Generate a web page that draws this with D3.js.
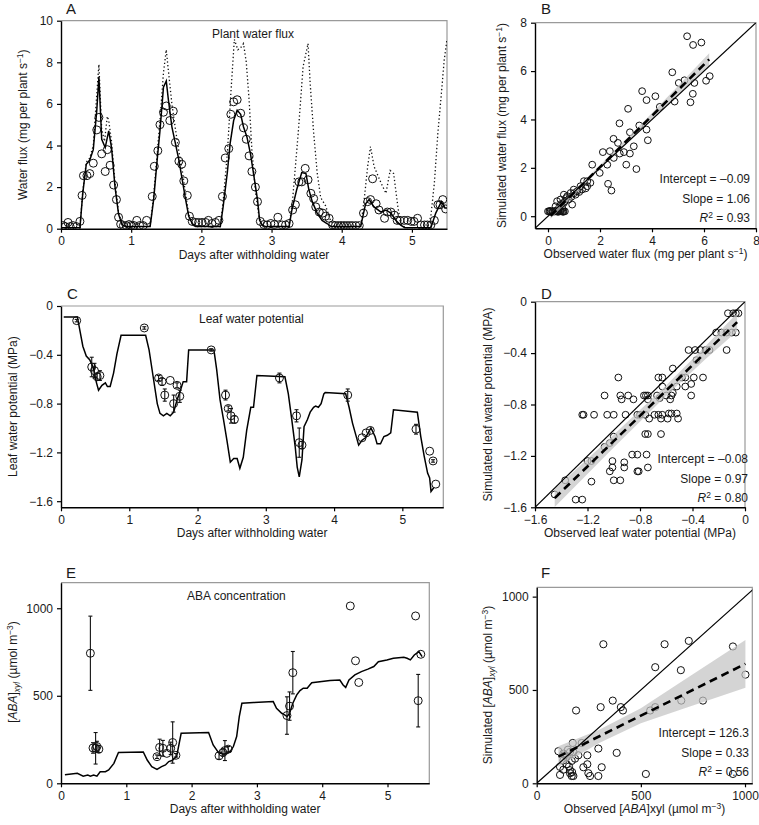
<!DOCTYPE html>
<html><head><meta charset="utf-8">
<script src="https://cdn.jsdelivr.net/npm/d3@7"></script>
<style>
body{margin:0;background:#fff;}
svg{font-family:"Liberation Sans",Arial,Helvetica,sans-serif;}
</style></head><body>
<svg id="c" width="759" height="825"></svg>
<script>
// ---------- Panel A: plant water flux ----------
const simA_day = [0,0.27,0.31,0.36,0.41,0.46,0.51,0.54,0.58,0.63,0.68,0.72,0.77,0.82,0.87,0.92,1.27,1.32,1.37,1.41,1.46,1.5,1.53,1.58,1.63,1.68,1.72,1.77,1.82,1.87,1.92,2.27,2.31,2.37,2.41,2.46,2.51,2.56,2.6,2.65,2.7,2.75,2.8,2.83,2.87,2.92,3.25,3.29,3.36,3.43,3.49,3.53,3.58,3.65,3.72,3.79,3.85,4.27,4.34,4.39,4.46,4.56,4.63,4.7,4.77,4.84,4.9,5.27,5.34,5.42,5.47,5.5];
const simA_val = [0.05,0.05,1.7,3.1,3.3,3.8,5.7,7.3,4.3,3.9,4.7,3.9,2.0,0.7,0.2,0.1,0.1,1.4,3.3,4.7,6.8,7.1,6.2,4.9,4.1,3.3,2.5,1.5,0.6,0.25,0.1,0.1,1.05,2.7,4.1,5.2,5.7,5.5,4.9,4.4,3.6,2.5,1.4,0.4,0.15,0.1,0.1,0.9,1.9,2.7,2.65,1.9,1.3,0.75,0.4,0.25,0.1,0.1,1.2,1.4,1.05,0.8,0.9,0.75,0.4,0.17,0.05,0.05,0.75,1.3,1.0,1.0];
const potA_day = [0,0.27,0.31,0.36,0.41,0.46,0.5,0.54,0.58,0.62,0.66,0.68,0.72,0.77,0.82,0.87,0.92,1.27,1.32,1.37,1.41,1.46,1.5,1.53,1.58,1.63,1.68,1.72,1.77,1.82,1.87,1.92,2.27,2.31,2.37,2.42,2.47,2.52,2.56,2.6,2.64,2.68,2.72,2.77,2.82,2.87,2.92,3.25,3.3,3.38,3.45,3.52,3.55,3.6,3.65,3.7,3.77,3.84,3.9,4.27,4.32,4.37,4.41,4.46,4.56,4.63,4.69,4.74,4.8,4.84,4.9,5.22,5.27,5.32,5.37,5.42,5.46,5.5];
const potA_val = [0.05,0.05,1.8,3.2,3.4,4.0,6.0,7.9,4.8,4.2,5.4,5.2,4.2,2.2,0.8,0.2,0.1,0.1,1.6,3.6,5.2,7.5,8.6,7.6,6.0,4.8,3.7,3.0,1.8,0.7,0.25,0.1,0.1,1.3,3.6,6.5,9.1,8.6,8.7,8.9,8.0,6.2,3.8,1.8,0.6,0.15,0.1,0.1,1.4,4.6,7.8,8.9,7.0,4.6,2.7,1.5,1.1,0.4,0.1,0.1,1.4,3.0,3.95,3.0,2.2,1.7,2.8,2.65,1.05,0.25,0.05,0.05,0.6,2.2,4.6,6.5,8.1,9.1];
const obsA_day = [0.03,0.06,0.1,0.13,0.17,0.22,0.27,0.3,0.32,0.37,0.41,0.46,0.51,0.54,0.58,0.63,0.66,0.7,0.75,0.79,0.82,0.85,0.89,0.93,0.97,1.0,1.04,1.08,1.12,1.17,1.22,1.3,1.33,1.38,1.41,1.46,1.5,1.55,1.6,1.63,1.68,1.72,1.75,1.8,1.83,1.87,1.92,1.96,2.01,2.06,2.1,2.15,2.2,2.25,2.3,2.34,2.39,2.42,2.46,2.51,2.56,2.6,2.64,2.68,2.72,2.77,2.8,2.84,2.89,2.94,2.99,3.04,3.09,3.15,3.2,3.25,3.3,3.34,3.39,3.43,3.48,3.52,3.56,3.6,3.63,3.68,3.73,3.77,3.82,3.87,3.91,3.95,3.99,4.03,4.07,4.11,4.15,4.2,4.25,4.31,4.37,4.41,4.44,4.49,4.53,4.61,4.65,4.7,4.75,4.79,4.83,4.89,4.94,4.99,5.03,5.08,5.13,5.18,5.22,5.27,5.32,5.37,5.4,5.44,5.48];
const obsA_val = [0.15,0.1,0.3,0.1,0.15,0.1,0.35,1.6,2.55,2.55,2.65,3.15,4.75,5.35,3.6,2.75,3.8,3.05,2.1,1.4,0.55,0.22,0.15,0.15,0.2,0.15,0.15,0.4,0.15,0.15,0.4,1.55,3.0,3.75,5.0,5.6,5.9,5.2,5.65,4.15,3.25,3.1,2.3,1.6,0.6,0.35,0.3,0.3,0.3,0.3,0.4,0.25,0.3,0.4,1.55,3.4,3.85,5.5,6.1,6.2,5.55,4.85,4.3,3.5,2.75,2.0,1.3,0.35,0.2,0.18,0.25,0.2,0.55,0.18,0.18,0.25,0.9,1.15,2.25,2.25,2.9,2.35,1.7,1.45,1.05,0.8,0.75,0.6,0.5,0.18,0.15,0.15,0.15,0.15,0.15,0.15,0.15,0.15,0.15,0.75,1.3,1.4,2.4,1.2,0.9,0.5,0.8,0.8,0.65,0.4,0.4,0.4,0.4,0.35,0.35,0.5,0.18,0.18,0.18,0.18,0.4,1.15,1.15,1.4,0.95];

// ---------- Panel B: observed vs simulated water flux ----------
const obsB = [5.35,5.58,5.9,6.22,6.08,4.78,5.03,5.25,5.63,5.57,5.48,4.87,3.62,3.79,4.13,4.3,3.08,2.75,3.51,3.79,3.15,2.52,2.69,3.84,3.3,2.11,2.38,2.76,2.92,3.15,2.53,2.28,1.7,3.01,3.4,1.99,2.31,2.44,1.38,1.63,1.51,1.25,0.99,1.12,0.87,0.74,0.61,0.48,0.35,0.61,0.93,0.42,0.55,1.51,1.06,1.31,0.8,0.29,1.2,0.7,1.45,0.9,0.5,1.0,0.65,0.0,0.05,0.1,0.15,0.2,0.25,0.3,0.35,0.4,0.45,0.5,0.55,0.6,0.65,0.08,0.18,0.28,0.38,0.48,0.58];
const simB = [7.44,7.08,7.18,5.79,5.6,5.95,5.51,5.62,5.51,5.06,4.71,4.74,5.17,4.8,4.96,4.52,4.44,3.84,3.75,3.58,3.47,3.2,3.03,3.14,2.89,2.65,2.69,2.59,2.65,2.59,2.41,2.13,2.13,2.13,1.95,1.79,1.34,1.06,1.45,1.38,1.24,1.24,1.1,1.03,0.96,0.83,0.89,0.69,0.62,0.55,0.48,0.34,0.34,1.45,0.89,1.1,0.69,0.41,1.0,0.75,1.15,0.8,0.5,0.95,0.62,0.2,0.2,0.2,0.2,0.2,0.2,0.2,0.2,0.2,0.2,0.2,0.2,0.2,0.2,0.22,0.18,0.22,0.18,0.22,0.18];
const fitB_x = [0.1,6.2];            // fitted line: intercept -0.09, slope 1.06
const fitB_coef = [-0.09,1.06];
const bandB_x = [0.1,1,2,3,4,5,6.2];
const bandB_h = [0.12,0.09,0.08,0.09,0.12,0.17,0.25];
const statsB = ["Intercept = \u20130.09","Slope = 1.06","0.93"];

// ---------- Panel C: leaf water potential ----------
const simC_day = [0.04,0.24,0.28,0.32,0.37,0.42,0.47,0.52,0.55,0.6,0.65,0.68,0.72,0.77,0.82,0.88,1.24,1.29,1.35,1.41,1.45,1.5,1.55,1.6,1.65,1.7,1.75,1.79,1.84,1.87,2.24,2.28,2.33,2.38,2.43,2.48,2.53,2.58,2.62,2.67,2.72,2.78,2.82,2.87,3.28,3.33,3.38,3.43,3.46,3.49,3.53,3.56,3.61,3.65,3.7,3.73,3.77,3.81,3.85,3.87,4.17,4.22,4.27,4.36,4.41,4.46,4.54,4.6,4.63,4.68,4.73,4.78,4.83,4.87,5.22,5.27,5.32,5.37,5.4,5.42,5.46];
const simC_val = [-0.09,-0.09,-0.21,-0.33,-0.41,-0.44,-0.5,-0.63,-0.69,-0.65,-0.63,-0.66,-0.66,-0.55,-0.39,-0.24,-0.24,-0.36,-0.58,-0.8,-0.88,-0.9,-0.88,-0.9,-0.87,-0.77,-0.69,-0.62,-0.62,-0.36,-0.36,-0.52,-0.77,-0.93,-1.1,-1.28,-1.25,-1.25,-1.33,-1.24,-1.02,-0.83,-0.83,-0.57,-0.58,-0.72,-0.93,-1.15,-1.32,-1.4,-1.26,-0.99,-0.93,-0.87,-0.83,-0.82,-0.83,-0.8,-0.72,-0.71,-0.72,-0.83,-0.96,-1.14,-1.1,-1.08,-1.0,-1.07,-1.13,-1.13,-1.07,-1.06,-1.04,-0.85,-0.87,-1.07,-1.23,-1.37,-1.41,-1.52,-1.49];
const obsC_day = [0.23,0.45,0.49,0.53,0.57,1.22,1.43,1.48,1.52,1.6,1.65,1.7,1.74,2.2,2.41,2.45,2.49,2.54,3.2,3.45,3.49,3.53,4.2,4.41,4.47,4.53,5.2,5.4,5.45,5.49];
const obsC_val = [-0.12,-0.5,-0.53,-0.58,-0.57,-0.18,-0.59,-0.62,-0.73,-0.61,-0.8,-0.65,-0.74,-0.36,-0.73,-0.84,-0.9,-0.93,-0.59,-0.9,-1.12,-1.14,-0.73,-1.08,-1.04,-1.02,-1.01,-1.19,-1.27,-1.46];
const obsC_err = [0.01,0.08,0.06,0.03,0.04,0.01,0.02,0.03,0.05,0,0.07,0.02,0.05,0.01,0.04,0.02,0.06,0.03,0.04,0.05,0.12,0.03,0.05,0,0,0,0.04,0,0.01,0];

// ---------- Panel D: observed vs simulated leaf water potential ----------
const obsD = [-0.13,-0.09,-0.07,-0.05,-0.22,-0.18,-0.14,-0.1,-0.07,-0.43,-0.38,-0.34,-0.3,-0.27,-0.14,-0.37,-0.55,-0.48,-0.455,-0.39,-0.32,-0.66,-0.63,-0.965,-0.41,-0.52,-0.455,-0.63,-0.55,-1.07,-0.95,-0.89,-0.77,-0.755,-0.74,-0.67,-0.6,-0.56,-0.41,-0.94,-0.85,-0.74,-0.65,-0.57,-1.24,-1.23,-1.15,-1.05,-1.0,-0.91,-0.82,-0.8,-0.76,-0.69,-0.66,-0.63,-0.58,-0.56,-0.52,-0.73,-0.64,-0.59,-0.51,-0.76,-0.74,-0.64,-1.0,-1.03,-1.07,-1.2,-1.17,-0.86,-0.82,-0.75,-1.01,-0.92,-0.92,-1.01,-1.03,-0.82,-0.81,-0.74,-1.0,-0.95,-1.17,-1.37,-1.45,-1.29,-1.24];
const simD = [-0.09,-0.09,-0.09,-0.09,-0.24,-0.24,-0.24,-0.24,-0.24,-0.376,-0.376,-0.376,-0.376,-0.376,-0.376,-0.455,-0.52,-0.59,-0.59,-0.59,-0.59,-0.59,-0.59,-0.59,-0.64,-0.66,-0.66,-0.66,-0.71,-0.73,-0.73,-0.73,-0.73,-0.73,-0.73,-0.73,-0.73,-0.73,-0.73,-0.76,-0.76,-0.76,-0.75,-0.76,-0.88,-0.88,-0.88,-0.88,-0.88,-0.88,-0.88,-0.88,-0.88,-0.88,-0.88,-0.88,-0.87,-0.87,-0.87,-0.91,-0.91,-0.91,-0.91,-1.03,-1.03,-1.03,-1.05,-1.1,-1.13,-1.24,-1.24,-1.19,-1.19,-1.19,-1.24,-1.25,-1.29,-1.29,-1.32,-1.32,-1.32,-1.29,-1.39,-1.39,-1.4,-1.39,-1.5,-1.54,-1.54];
const fitD_x = [-1.45,-0.06];
const fitD_coef = [-0.1,0.985];
const bandD_x = [-1.45,-1.0,-0.6,-0.3,-0.06];
const bandD_h = [0.07,0.05,0.04,0.05,0.07];
const statsD = ["Intercept = \u20130.08","Slope = 0.97","0.80"];

// ---------- Panel E: ABA concentration ----------
const simE_day = [0.06,0.25,0.34,0.41,0.45,0.5,0.55,0.6,0.68,0.73,0.81,0.88,1.26,1.32,1.39,1.47,1.54,1.6,1.65,1.7,1.77,1.84,2.26,2.33,2.41,2.48,2.54,2.59,2.64,2.69,2.73,2.77,2.95,3.25,3.3,3.38,3.43,3.46,3.5,3.55,3.61,3.66,3.71,3.77,3.81,3.84,4.12,4.27,4.32,4.36,4.41,4.5,4.6,4.7,4.79,4.86,4.99,5.09,5.25,5.3,5.35,5.41,5.48,5.53];
const simE_val = [49,57,41,47,41,47,41,66,66,76,114,176,179,133,95,80,95,105,124,130,152,286,290,219,176,166,171,181,210,267,381,457,461,467,428,400,390,381,400,457,505,530,543,543,562,575,587,590,562,548,590,619,638,652,667,695,705,714,720,714,705,733,752,724];
const obsE_day = [0.45,0.49,0.53,0.55,0.58,1.47,1.51,1.56,1.62,1.68,1.71,1.76,2.42,2.48,2.51,2.56,3.46,3.5,3.55,4.43,4.51,4.56,5.43,5.47,5.51];
const obsE_val = [743,202,200,210,195,152,205,200,171,200,233,160,157,176,187,195,387,441,632,1013,700,576,956,472,737];
const obsE_err = [212,30,90,30,20,10,47,45,0,35,118,10,20,20,57,15,107,81,121,0,0,0,0,150,0];

// ---------- Panel F: observed vs simulated ABA ----------
const obsF = [320,614,730,942,569,692,1002,365,307,404,414,189,569,545,694,798,384,296,216,173,104,128,160,144,176,200,243,128,168,144,243,112,128,160,224,312,112,160,168,176,248,256,296,524,942,184,150,136,155,170];
const simF = [745,745,763,733,622,606,582,443,408,408,390,390,408,390,443,443,163,186,216,216,172,159,168,141,168,150,150,123,120,102,102,88,73,70,86,86,45,54,39,39,54,39,39,50,50,132,180,150,90,60];
const fitF_pts = [[104,143],[1002,640]];
const bandF_x = [104,300,500,700,1002];
const bandF_h = [55,35,40,75,128];
const statsF = ["Intercept = 126.3","Slope = 0.33","0.56"];

// ---------- drawing ----------
const svg = d3.select("#c");
const FS = 12;
const minusFmt = d3.format(".1f");

function rich(textSel, parts){
  parts.forEach(p=>{
    const t = textSel.append("tspan").text(p.t);
    if(p.it) t.attr("font-style","italic");
    if(p.sup){ t.attr("font-size",8.5).attr("dy",-4.5); }
    if(p.sub){ t.attr("font-size",8.5).attr("dy",3); }
    if(p.back) t.attr("dy",p.back);
  });
}

let clipId = 0;
function panel(p){
  const x = d3.scaleLinear().domain(p.xd).range([p.x0,p.x1]);
  const y = d3.scaleLinear().domain(p.yd).range([p.y1,p.y0]);
  const g = svg.append("g");
  const id = "clip"+(clipId++);
  svg.append("clipPath").attr("id",id).append("rect")
    .attr("x",p.x0).attr("y",p.y0).attr("width",p.x1-p.x0).attr("height",p.y1-p.y0);
  g.append("path").attr("d",`M${p.x0},${p.y0}H${p.x1}V${p.y1}`)
    .attr("fill","none").attr("stroke","#9a9a9a").attr("stroke-width",1.2);
  const inner = g.append("g").attr("clip-path",`url(#${id})`);
  const xa = d3.axisBottom(x).tickValues(p.xt).tickFormat(p.xf||(d=>d)).tickSize(4).tickSizeOuter(0).tickPadding(4);
  const ya = d3.axisLeft(y).tickValues(p.yt).tickFormat(p.yf||(d=>d)).tickSize(4).tickSizeOuter(0).tickPadding(4);
  const gx = g.append("g").attr("transform",`translate(0,${p.y1})`).call(xa);
  const gy = g.append("g").attr("transform",`translate(${p.x0},0)`).call(ya);
  [gx,gy].forEach(a=>{
    a.select(".domain").attr("stroke","#000").attr("stroke-width",1.4);
    a.selectAll(".tick line").attr("stroke","#000").attr("stroke-width",1.2);
    a.selectAll(".tick text").attr("font-size",FS).attr("fill","#1a1a1a").attr("font-family","Liberation Sans, Arial, sans-serif");
  });
  svg.append("text").attr("x",p.lx).attr("y",p.ly).attr("font-size",15).attr("fill","#1a1a1a").text(p.letter);
  const xt = svg.append("text").attr("x",(p.x0+p.x1)/2).attr("y",p.y1+30).attr("text-anchor","middle").attr("font-size",FS).attr("fill","#1a1a1a");
  rich(xt,p.xtitle);
  const yt = svg.append("text").attr("transform",`translate(${p.ytx},${p.ytc!==undefined?p.ytc:(p.y0+p.y1)/2}) rotate(-90)`).attr("text-anchor","middle").attr("font-size",FS).attr("fill","#1a1a1a");
  rich(yt,p.ytitle);
  return {x,y,g,inner};
}

const SUPM1 = [{t:"\u22121",sup:true},{t:")",back:4.5}];
const days = [{t:"Days after withholding water"}];

// Panel A
{
  const P = panel({x0:61,x1:447,y0:20.7,y1:228.7,xd:[0,5.5],yd:[0,10],xt:[0,1,2,3,4,5],yt:[0,2,4,6,8,10],
    letter:"A",lx:66,ly:14,xtitle:days,ytitle:[{t:"Water flux (mg per plant s"}].concat(SUPM1),ytx:27});
  const {x,y,inner} = P;
  const ln = d3.line().x(d=>x(d[0])).y(d=>y(d[1]));
  inner.append("path").attr("d",ln(d3.zip(potA_day,potA_val))).attr("fill","none").attr("stroke","#111").attr("stroke-width",1.3).attr("stroke-dasharray","1.3,2.4");
  inner.append("g").selectAll("circle").data(d3.zip(obsA_day,obsA_val)).join("circle")
    .attr("cx",d=>x(d[0])).attr("cy",d=>y(d[1])).attr("r",4).attr("fill","none").attr("stroke","#111").attr("stroke-width",1);
  inner.append("path").attr("d",ln(d3.zip(simA_day,simA_val))).attr("fill","none").attr("stroke","#000").attr("stroke-width",1.5);
  svg.append("text").attr("x",212).attr("y",38).attr("font-size",FS).attr("fill","#1a1a1a").text("Plant water flux");
}

function scatterPanel(P, xs, ys, r, oneToOne, fitPts, bandX, bandH, bandFn, stats, sx, sy){
  const {x,y,inner} = P;
  inner.append("g").selectAll("circle").data(d3.zip(xs,ys)).join("circle")
    .attr("cx",d=>x(d[0])).attr("cy",d=>y(d[1])).attr("r",r).attr("fill","none").attr("stroke","#111").attr("stroke-width",1);
  const area = d3.area().x(d=>x(d[0])).y0(d=>y(bandFn(d[0])-d[1])).y1(d=>y(bandFn(d[0])+d[1]));
  inner.append("path").attr("d",area(d3.zip(bandX,bandH))).attr("fill","#c4c4c4").attr("opacity",0.72);
  inner.append("line").attr("x1",x(oneToOne[0])).attr("y1",y(oneToOne[0])).attr("x2",x(oneToOne[1])).attr("y2",y(oneToOne[1]))
    .attr("stroke","#000").attr("stroke-width",1.2);
  inner.append("line").attr("x1",x(fitPts[0][0])).attr("y1",y(fitPts[0][1])).attr("x2",x(fitPts[1][0])).attr("y2",y(fitPts[1][1]))
    .attr("stroke","#000").attr("stroke-width",2.6).attr("stroke-dasharray","8,5");
  const st = svg.append("g").attr("font-size",FS).attr("fill","#1a1a1a").attr("text-anchor","end");
  st.append("text").attr("x",sx).attr("y",sy).text(stats[0]);
  st.append("text").attr("x",sx).attr("y",sy+19.5).text(stats[1]);
  const r2 = st.append("text").attr("x",sx).attr("y",sy+39);
  rich(r2,[{t:"R",it:true},{t:"2",sup:true},{t:" = "+stats[2],back:4.5}]);
}

// Panel B
{
  const P = panel({x0:535,x1:756,y0:22.7,y1:228.3,xd:[-0.5,8],yd:[-0.5,8],xt:[0,2,4,6,8],yt:[0,2,4,6,8],
    letter:"B",lx:541,ly:14,xtitle:[{t:"Observed water flux (mg per plant s"}].concat(SUPM1),
    ytitle:[{t:"Simulated water flux (mg per plant s"}].concat(SUPM1),ytx:506});
  const f = v=>fitB_coef[0]+fitB_coef[1]*v;
  scatterPanel(P,obsB,simB,3.4,[-0.5,8],[[fitB_x[0],f(fitB_x[0])],[fitB_x[1],f(fitB_x[1])]],bandB_x,bandB_h,f,statsB,750,183);
}

// Panel C
{
  const fmtC = d=> d===0?"0":minusFmt(d);
  const P = panel({x0:61,x1:443.3,y0:306,y1:507.3,xd:[0,5.6],yd:[-1.65,0],xt:[0,1,2,3,4,5],yt:[0,-0.4,-0.8,-1.2,-1.6],yf:fmtC,
    letter:"C",lx:67,ly:299,xtitle:days,ytitle:[{t:"Leaf water potential (MPa)"}],ytx:17});
  const {x,y,inner,g} = P;
  const ln = d3.line().x(d=>x(d[0])).y(d=>y(d[1]));
  inner.append("path").attr("d",ln(d3.zip(simC_day,simC_val))).attr("fill","none").attr("stroke","#000").attr("stroke-width",1.5);
  const pts = d3.zip(obsC_day,obsC_val,obsC_err);
  const eb = g.append("g").attr("stroke","#111").attr("stroke-width",1.1);
  pts.filter(d=>d[2]>0).forEach(d=>{
    eb.append("line").attr("x1",x(d[0])).attr("x2",x(d[0])).attr("y1",y(d[1]-d[2])).attr("y2",y(d[1]+d[2]));
    eb.append("line").attr("x1",x(d[0])-2).attr("x2",x(d[0])+2).attr("y1",y(d[1]-d[2])).attr("y2",y(d[1]-d[2]));
    eb.append("line").attr("x1",x(d[0])-2).attr("x2",x(d[0])+2).attr("y1",y(d[1]+d[2])).attr("y2",y(d[1]+d[2]));
  });
  g.append("g").selectAll("circle").data(pts).join("circle")
    .attr("cx",d=>x(d[0])).attr("cy",d=>y(d[1])).attr("r",4).attr("fill","none").attr("stroke","#111").attr("stroke-width",1);
  svg.append("text").attr("x",199).attr("y",323).attr("font-size",FS).attr("fill","#1a1a1a").text("Leaf water potential");
}

// Panel D
{
  const fmtD = d=> d===0?"0":minusFmt(d);
  const P = panel({x0:535,x1:745,y0:301.7,y1:507.3,xd:[-1.6,0],yd:[-1.6,0],xt:[-1.6,-1.2,-0.8,-0.4,0],yt:[0,-0.4,-0.8,-1.2,-1.6],xf:fmtD,yf:fmtD,
    letter:"D",lx:541,ly:299,xtitle:[{t:"Observed leaf water potential (MPa)"}],ytitle:[{t:"Simulated leaf water potential (MPA)"}],ytx:492});
  const f = v=>fitD_coef[0]+fitD_coef[1]*v;
  scatterPanel(P,obsD,simD,3.4,[-1.6,0],[[fitD_x[0],f(fitD_x[0])],[fitD_x[1],f(fitD_x[1])]],bandD_x,bandD_h,f,statsD,748,463);
}

// Panel E
{
  const P = panel({x0:61,x1:429.3,y0:582.7,y1:783.3,xd:[0,5.64],yd:[0,1146],xt:[0,1,2,3,4,5],yt:[0,500,1000],
    letter:"E",lx:66,ly:578,xtitle:days,
    ytitle:[{t:"["},{t:"ABA",it:true},{t:"]"},{t:"xyl",sub:true,it:true},{t:" (\u00b5mol m",back:-3},{t:"\u22123",sup:true},{t:")",back:4.5}],ytx:17,ytc:672});
  const {x,y,inner,g} = P;
  const ln = d3.line().x(d=>x(d[0])).y(d=>y(d[1]));
  inner.append("path").attr("d",ln(d3.zip(simE_day,simE_val))).attr("fill","none").attr("stroke","#000").attr("stroke-width",1.5);
  const pts = d3.zip(obsE_day,obsE_val,obsE_err);
  const eb = g.append("g").attr("stroke","#111").attr("stroke-width",1.1);
  pts.filter(d=>d[2]>0).forEach(d=>{
    eb.append("line").attr("x1",x(d[0])).attr("x2",x(d[0])).attr("y1",y(d[1]-d[2])).attr("y2",y(d[1]+d[2]));
    eb.append("line").attr("x1",x(d[0])-2).attr("x2",x(d[0])+2).attr("y1",y(d[1]-d[2])).attr("y2",y(d[1]-d[2]));
    eb.append("line").attr("x1",x(d[0])-2).attr("x2",x(d[0])+2).attr("y1",y(d[1]+d[2])).attr("y2",y(d[1]+d[2]));
  });
  g.append("g").selectAll("circle").data(pts).join("circle")
    .attr("cx",d=>x(d[0])).attr("cy",d=>y(d[1])).attr("r",4).attr("fill","none").attr("stroke","#111").attr("stroke-width",1);
  svg.append("text").attr("x",187).attr("y",600).attr("font-size",FS).attr("fill","#1a1a1a").text("ABA concentration");
}

// Panel F
{
  const P = panel({x0:536.7,x1:752.3,y0:587.3,y1:783.3,xd:[0,1035],yd:[0,1050],xt:[0,500,1000],yt:[0,500,1000],
    letter:"F",lx:541,ly:578,
    xtitle:[{t:"Observed ["},{t:"ABA",it:true},{t:"]xyl (\u00b5mol m"},{t:"\u22123",sup:true},{t:")",back:4.5}],
    ytitle:[{t:"Simulated ["},{t:"ABA",it:true},{t:"]"},{t:"xyl",sub:true,it:true},{t:" (\u00b5mol m",back:-3},{t:"\u22123",sup:true},{t:")",back:4.5}],ytx:492,ytc:685});
  const slope = (fitF_pts[1][1]-fitF_pts[0][1])/(fitF_pts[1][0]-fitF_pts[0][0]);
  const f = v=>fitF_pts[0][1]+slope*(v-fitF_pts[0][0]);
  scatterPanel(P,obsF,simF,3.6,[0,1050],fitF_pts,bandF_x,bandF_h,f,statsF,749,737);
}
</script>
</body></html>
